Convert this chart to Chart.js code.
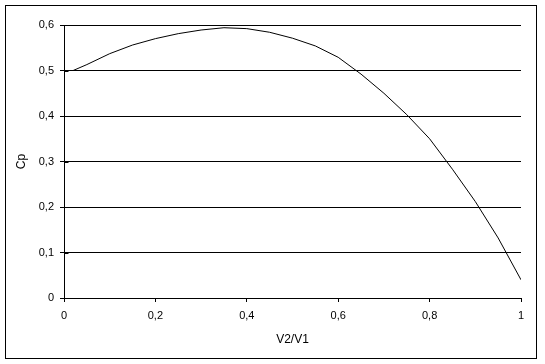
<!DOCTYPE html>
<html>
<head>
<meta charset="utf-8">
<script src="https://cdn.jsdelivr.net/npm/chart.js@4.4.1/dist/chart.umd.min.js"></script>
<style>
    html, body { margin: 0; padding: 0; background: #ffffff; }
    #wrap { width: 545px; height: 364px; }
</style>
</head>
<body>
<div id="wrap"><canvas id="cpChart"></canvas></div>
<script>
// Values
const ratio = [0.02, 0.05, 0.10, 0.15, 0.20, 0.25, 0.30, 0.35, 0.40, 0.45, 0.50,
               0.55, 0.60, 0.65, 0.70, 0.75, 0.80, 0.85, 0.90, 0.95, 1.00];
const cp = [0.500, 0.513, 0.537, 0.556, 0.570, 0.581, 0.589, 0.594, 0.592, 0.584, 0.571,
            0.554, 0.529, 0.492, 0.450, 0.403, 0.350, 0.283, 0.212, 0.132, 0.040];
const xTickLabels = ['0', '0,2', '0,4', '0,6', '0,8', '1'];
const yTickLabels = ['0', '0,1', '0,2', '0,3', '0,4', '0,5', '0,6'];

const font = { family: 'Liberation Sans, Arial, sans-serif', size: 11 };

// Outer frame around the whole chart, like the Excel chart area
const framePlugin = {
    id: 'frame',
    beforeDraw(chart) {
        const ctx = chart.ctx;
        ctx.save();
        ctx.fillStyle = '#ffffff';
        ctx.fillRect(0, 0, chart.width, chart.height);
        ctx.restore();
    },
    afterDraw(chart) {
        const ctx = chart.ctx;
        ctx.save();
        ctx.strokeStyle = '#000000';
        ctx.lineWidth = 1;
        ctx.strokeRect(5.5, 5.5, 531, 353);
        // y ticks cross the axis in the reference: add the inner half
        const y = chart.scales.y;
        const left = Math.round(chart.chartArea.left) + 0.5;
        ctx.beginPath();
        y.ticks.forEach(t => {
            const py = Math.round(y.getPixelForValue(t.value)) + 0.5;
            ctx.moveTo(left, py);
            ctx.lineTo(left + 4, py);
        });
        ctx.stroke();
        ctx.restore();
    }
};

new Chart(document.getElementById('cpChart').getContext('2d'), {
    type: 'line',
    data: {
        datasets: [{
            data: ratio.map((x, i) => ({ x: x, y: cp[i] })),
            borderColor: '#000000',
            borderWidth: 1,
            pointRadius: 0,
            tension: 0,
            fill: false
        }]
    },
    options: {
        responsive: true,
        maintainAspectRatio: false,
        animation: false,
        layout: { padding: { left: 0, right: 24, top: 25, bottom: 0 } },
        plugins: {
            legend: { display: false },
            tooltip: { enabled: false }
        },
        scales: {
            x: {
                type: 'linear',
                min: 0,
                max: 1,
                ticks: {
                    stepSize: 0.2,
                    color: '#000000',
                    font: font,
                    padding: 7,
                    maxRotation: 0,
                    callback: (v, i) => xTickLabels[i]
                },
                grid: {
                    drawOnChartArea: false,
                    drawTicks: true,
                    tickLength: 4,
                    tickColor: '#000000'
                },
                border: { color: '#000000', width: 1 },
                title: {
                    display: true,
                    text: 'V2/V1',
                    color: '#000000',
                    font: { family: font.family, size: 12 },
                    padding: { top: 0, bottom: 17 }
                },
                afterFit: (scale) => { scale.height = 66; }
            },
            y: {
                min: 0,
                max: 0.6,
                ticks: {
                    stepSize: 0.1,
                    color: '#000000',
                    font: font,
                    padding: 6,
                    callback: (v, i) => yTickLabels[i]
                },
                grid: {
                    color: '#000000',
                    lineWidth: 1,
                    drawTicks: true,
                    tickLength: 4,
                    tickColor: '#000000'
                },
                border: { color: '#000000', width: 1 },
                title: {
                    display: true,
                    text: 'Cp',
                    color: '#000000',
                    font: { family: font.family, size: 12 },
                    padding: { top: 14, bottom: 0 }
                },
                afterFit: (scale) => { scale.width = 64; }
            }
        }
    },
    plugins: [framePlugin]
});
</script>
</body>
</html>
